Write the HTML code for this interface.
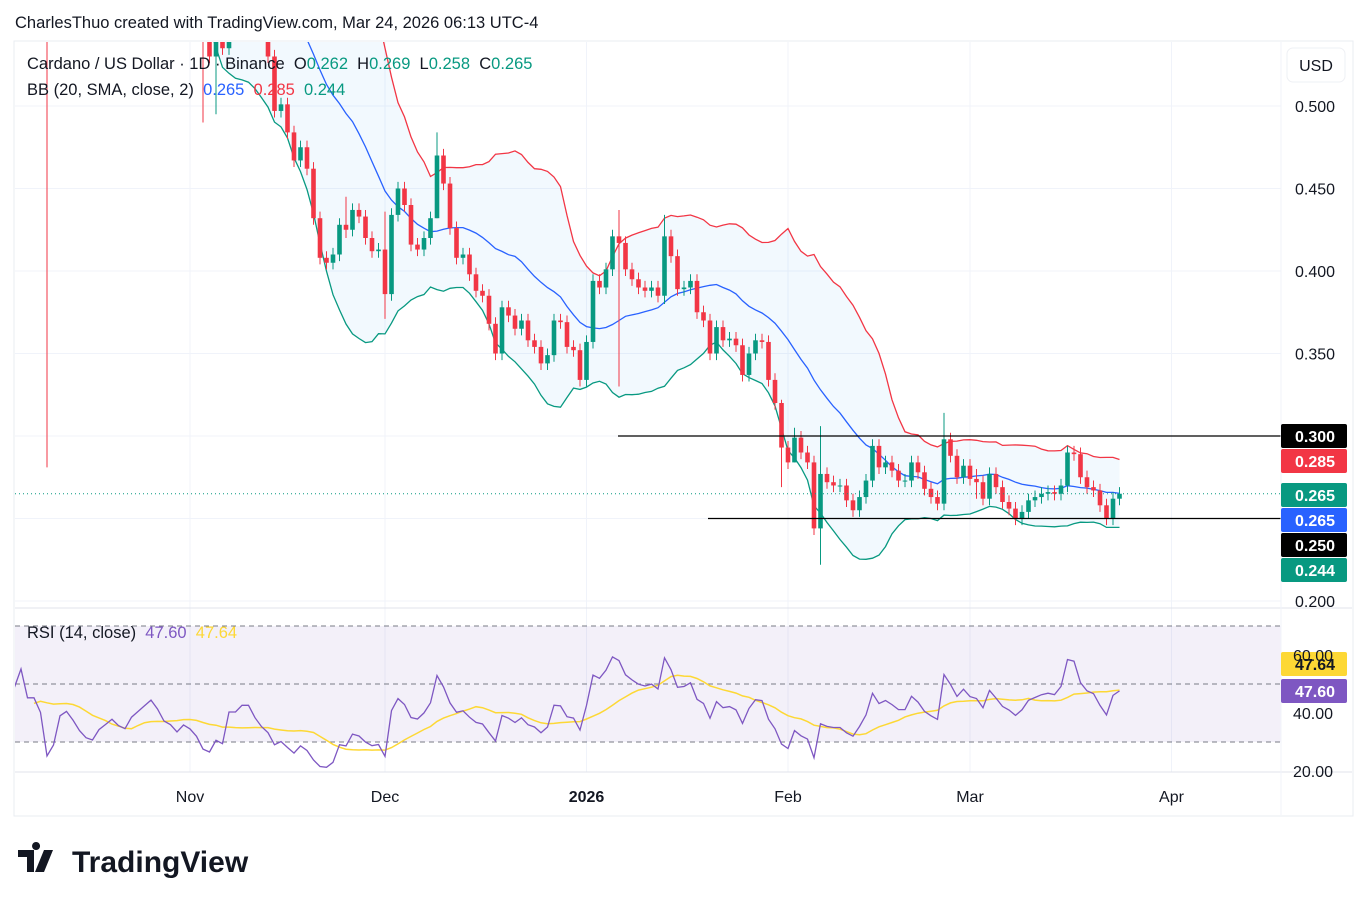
<!DOCTYPE html>
<html><head><meta charset="utf-8"><style>
body{margin:0;background:#fff;width:1367px;height:906px;overflow:hidden;font-family:"Liberation Sans","DejaVu Sans",sans-serif}
svg text{font-family:"Liberation Sans","DejaVu Sans",sans-serif}
</style></head><body>
<svg id="chart" width="1367" height="906" xmlns="http://www.w3.org/2000/svg">
<defs>
<clipPath id="mainClip"><rect x="15" y="42" width="1266" height="566"/></clipPath>
<clipPath id="rsiClip"><rect x="15" y="610" width="1266" height="160"/></clipPath>
</defs>
<rect x="14" y="41" width="1339" height="775" fill="#fff" stroke="#e9ecf2"/>
<g id="grid"></g>
<g id="main" clip-path="url(#mainClip)"></g>
<line x1="15" y1="608" x2="1352" y2="608" stroke="#e0e3eb"/>
<g id="rsi" clip-path="url(#rsiClip)"></g>
<line x1="15" y1="772" x2="1352" y2="772" stroke="#e0e3eb"/>
<line x1="1281" y1="42" x2="1281" y2="815" stroke="#f0f3fa"/>
<g id="axis"></g>
<g id="taxis"></g>
<text x="15" y="28" font-size="16.5" fill="#131722">CharlesThuo created with TradingView.com, Mar 24, 2026 06:13 UTC-4</text>
<text x="27" y="69" font-size="16.5" fill="#131722" xml:space="preserve">Cardano / US Dollar · 1D · Binance  O<tspan fill="#089981">0.262</tspan>  H<tspan fill="#089981">0.269</tspan>  L<tspan fill="#089981">0.258</tspan>  C<tspan fill="#089981">0.265</tspan></text>
<text x="27" y="95" font-size="16.5" fill="#131722" xml:space="preserve">BB (20, SMA, close, 2)  <tspan fill="#2962ff">0.265</tspan>  <tspan fill="#f23645">0.285</tspan>  <tspan fill="#089981">0.244</tspan></text>
<text x="27" y="638" font-size="16.5" fill="#131722" xml:space="preserve">RSI (14, close)  <tspan fill="#7e57c2">47.60</tspan>  <tspan fill="#fdd835">47.64</tspan></text>
<rect x="1287" y="48" width="58" height="34" rx="6" fill="#fff" stroke="#eef0f4"/>
<text x="1316" y="71" font-size="16" text-anchor="middle" fill="#131722">USD</text>
<g>
<path d="M18 850h16v22h-7v-15h-9z M36 850a4 4 0 1 1 0.1 0z M44 850h9l-9 22h-9z" fill="#131722"/>
<text x="72" y="872" font-size="30" font-weight="bold" fill="#131722">TradingView</text>
</g>
</svg>
<script>
// Daily closes Sep 11 - Sep 30 2025 (warm-up, off-screen)
const sepCloses = [0.88,0.90,0.91,0.92,0.88,0.89,0.88,0.90,0.86,0.84,0.83,0.79,0.81,0.80,0.76,0.77,0.78,0.79,0.80,0.81];
// Daily closes from Oct 1 2025 to Mar 24 2026
const closes = [
0.83,0.85,0.85,0.83,0.84,0.87,0.82,0.82,0.79,0.64,0.66,0.72,0.73,0.70,0.66,0.63,0.62,0.64,0.65,0.66,0.64,0.63,0.65,0.66,0.67,0.68,0.66,0.63,0.62,0.60,0.61,
0.60,0.58,0.54,0.53,0.545,0.535,0.58,0.58,0.59,0.59,0.565,0.545,0.53,0.497,0.501,0.484,0.467,0.475,0.462,0.432,0.408,0.405,0.41,0.428,0.425,0.437,0.433,0.42,0.412,0.413,
0.386,0.434,0.45,0.44,0.416,0.413,0.42,0.432,0.47,0.453,0.426,0.408,0.41,0.398,0.388,0.385,0.368,0.35,0.378,0.373,0.365,0.37,0.358,0.354,0.344,0.349,0.37,0.369,0.354,0.352,0.334,
0.357,0.394,0.390,0.401,0.421,0.417,0.401,0.395,0.39,0.388,0.39,0.385,0.421,0.409,0.389,0.39,0.394,0.375,0.37,0.35,0.366,0.358,0.359,0.355,0.337,0.35,0.358,0.357,0.334,0.32,0.293,
0.284,0.299,0.29,0.284,0.244,0.277,0.272,0.27,0.27,0.261,0.255,0.263,0.273,0.294,0.281,0.284,0.279,0.273,0.273,0.284,0.278,0.268,0.263,0.259,0.298,0.288,0.275,0.282,
0.274,0.272,0.262,0.277,0.269,0.26,0.256,0.25,0.254,0.261,0.263,0.265,0.266,0.265,0.27,0.29,0.289,0.275,0.269,0.267,0.258,0.25,0.262,0.265];
// notable wicks (day index from Oct 1): high / low
const wickDays = [9,33,35,55,61,69,97,104,122,124,128,147,152];
const wickHigh = [0.87,0.56,0.56,0.445,0.436,0.484,0.437,0.434,0.322,0.305,0.306,0.314,0.28];
const wickLow  = [0.281,0.49,0.495,0.42,0.371,0.44,0.33,0.38,0.269,0.286,0.222,0.255,0.262];
const priceTicks = [0.5,0.45,0.4,0.35,0.3,0.25,0.2];
const priceTickLabels = ["0.500","0.450","0.400","0.350","0.300","0.250","0.200"];
const monthIdx = [31,61,92,123,151,182];
const monthLabels = ["Nov","Dec","2026","Feb","Mar","Apr"];
const rsiTicks = [60,40,20];
const rsiTickLabels = ["60.00","40.00","20.00"];
const levelLines = [0.300,0.250];

const NS="http://www.w3.org/2000/svg";
function mk(tag,attrs,parent){const e=document.createElementNS(NS,tag);for(const k in attrs)e.setAttribute(k,attrs[k]);parent.appendChild(e);return e;}
const OFF=sepCloses.length;
const all=sepCloses.concat(closes);
const xOf=d=>190+(d-31)*6.5;          // d: day index from Oct 1
const xA=i=>xOf(i-OFF);               // i: index in all
const yOf=p=>106+(0.5-p)*1650;
const rOf=v=>713-(v-40)*2.9;
const main=document.getElementById('main'),grid=document.getElementById('grid'),rsiG=document.getElementById('rsi'),axis=document.getElementById('axis'),taxis=document.getElementById('taxis');

priceTicks.forEach((p,k)=>{
 const l=mk('line',{x1:15,x2:1281,y1:yOf(p),y2:yOf(p),stroke:'#f0f3fa'},grid);
 
 
 const t=mk('text',{x:1295,y:yOf(p)+6,'font-size':16,fill:'#131722'},axis);
 t.textContent=priceTickLabels[k];
 
 
});
monthIdx.forEach((i,k)=>{
 const l=mk('line',{x1:xOf(i),x2:xOf(i),y1:42,y2:772,stroke:'#f0f3fa'},grid);
 
 
 const t=mk('text',{x:xOf(i),y:802,'font-size':16,'text-anchor':'middle',fill:'#131722','font-weight':k==2?'bold':'normal'},taxis);
 t.textContent=monthLabels[k];
 
 
});

// Bollinger
const N=all.length,mid=[],up=[],lo=[];
for(let i=0;i<N;i++){if(i<19){mid.push(null);up.push(null);lo.push(null);continue;}
 let s=0;for(let j=i-19;j<=i;j++)s+=all[j];const m=s/20;let v=0;for(let j=i-19;j<=i;j++)v+=(all[j]-m)**2;const sd=Math.sqrt(v/20);
 mid.push(m);up.push(m+2*sd);lo.push(m-2*sd);}
const pts=(arr,f)=>arr.map((v,i)=>v==null?null:xA(i).toFixed(1)+','+f(v).toFixed(1)).filter(Boolean);
const upP=pts(up,yOf),loP=pts(lo,yOf);
let fill=mk('polygon',{points:upP.concat(loP.slice().reverse()).join(' '),fill:'rgba(33,150,243,0.06)'},main);


[[up,'#f23645','bb-upper'],[mid,'#2962ff','bb-basis'],[lo,'#089981','bb-lower']].forEach(([a,c,n])=>{
 const pl=mk('polyline',{points:pts(a,yOf).join(' '),fill:'none',stroke:c,'stroke-width':1.3},main);
 
 
});

// candles
for(let d=0;d<closes.length;d++){
 const i=d+OFF;
 const o=all[i-1],c=all[i];
 let h=Math.max(o,c)+0.004,l=Math.min(o,c)-0.004;
 const w=wickDays.indexOf(d);if(w>=0){h=Math.max(wickHigh[w],Math.max(o,c));l=Math.min(wickLow[w],Math.min(o,c));}
 const col=c>=o?'#089981':'#f23645',x=xOf(d);
 const g=mk('g',{},main);
 
 
 mk('line',{x1:x,x2:x,y1:yOf(h),y2:yOf(l),stroke:col,'stroke-width':1},g);
 const yt=yOf(Math.max(o,c)),yb=yOf(Math.min(o,c));
 mk('rect',{x:x-2.3,y:yt,width:4.6,height:Math.max(1,yb-yt),fill:col},g);
}
const lvStart=[618,708];
levelLines.forEach((p,k)=>{
 const l=mk('line',{x1:lvStart[k],x2:1281,y1:yOf(p),y2:yOf(p),stroke:'#000','stroke-width':1.2},main);
 
 
});
const last=closes[closes.length-1];
let pl=mk('line',{x1:15,x2:1281,y1:yOf(last),y2:yOf(last),stroke:'#089981','stroke-dasharray':'1 3'},main);



const badges=[[424,'#000','#fff','0.300'],[449,'#f23645','#fff','0.285'],[483,'#089981','#fff','0.265'],[508,'#2962ff','#fff','0.265'],[533,'#000','#fff','0.250'],[558,'#089981','#fff','0.244'],[652,'#fdd835','#131722','47.64'],[679,'#7e57c2','#fff','47.60']];
badges.forEach(([y,bg,fg,t])=>{
 const g=mk('g',{},axis);
 
 
 mk('rect',{x:1281,y:y,width:66,height:24,rx:2,fill:bg},g);
 const tx=mk('text',{x:1295,y:y+18,'font-size':16,'font-weight':'bold',fill:fg},g);tx.textContent=t;
});

// RSI
mk('rect',{x:15,y:rOf(70),width:1266,height:rOf(30)-rOf(70),fill:'rgba(126,87,194,0.09)'},rsiG);
[70,50,30].forEach(v=>{const l=mk('line',{x1:15,x2:1281,y1:rOf(v),y2:rOf(v),stroke:'#787b86','stroke-dasharray':'5 4'},rsiG);
 
 });
rsiTicks.forEach((v,k)=>{const t=mk('text',{x:1293,y:rOf(v)+6,'font-size':16,fill:'#131722'},axis);t.textContent=rsiTickLabels[k];
 
 });
const rsi=new Array(N).fill(null);let ag=0,al=0;
for(let i=1;i<N;i++){const d=all[i]-all[i-1],g=Math.max(d,0),l=Math.max(-d,0);
 if(i<=14){ag+=g/14;al+=l/14;if(i==14)rsi[i]=100-100/(1+ag/al);}
 else{ag=(ag*13+g)/14;al=(al*13+l)/14;rsi[i]=100-100/(1+ag/al);}}
const rma=new Array(N).fill(null);
for(let i=27;i<N;i++){let s=0;for(let j=i-13;j<=i;j++)s+=rsi[j];rma[i]=s/14;}
let r1=mk('polyline',{points:pts(rma,rOf).join(' '),fill:'none',stroke:'#fdd835','stroke-width':1.5},rsiG);


let r2=mk('polyline',{points:pts(rsi,rOf).join(' '),fill:'none',stroke:'#7e57c2','stroke-width':1.3},rsiG);


</script>
</body></html>
